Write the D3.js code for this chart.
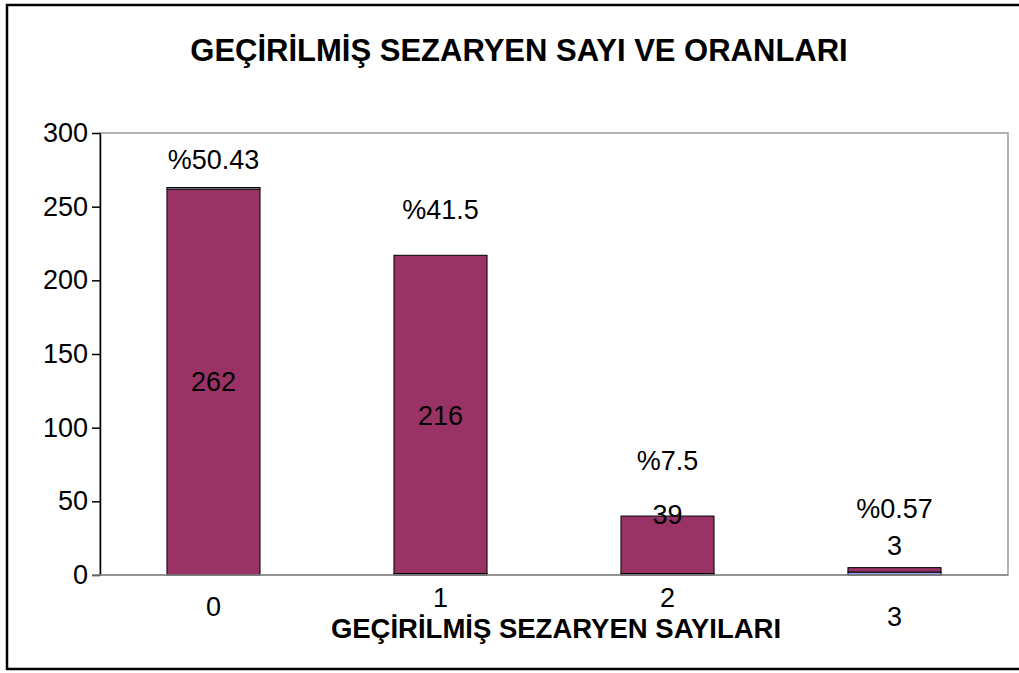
<!DOCTYPE html>
<html>
<head>
<meta charset="utf-8">
<script src="https://d3js.org/d3.v7.min.js"></script>
<style>
  body { margin: 0; background: #fff; }
  text { font-family: "Liberation Sans", Arial, sans-serif; fill: #000; }
</style>
</head>
<body>
<div id="chart"></div>
<script>
// data
const categories = ["0", "1", "2", "3"];
const blueValues = [0, 1, 1, 2];        // thin bottom series
const countValues = [262, 216, 39, 3];  // maroon series (sayı)
const topValues = [1, 0, 0, 0];         // thin top series
const countLabels = ["262", "216", "39", "3"];
const pctLabels = ["%50.43", "%41.5", "%7.5", "%0.57"];
const pctLabelAt = [282, 248, 78, 45];  // where the % labels sit, in axis units
const countLabelAt = [131, 108, 41, 20];
const yTicks = [0, 50, 100, 150, 200, 250, 300];

const W = 1019, H = 673;
const margin = {left: 100, right: 11, top: 133, bottom: 98};
const FS = "27px";

var svg = d3.select("#chart")
  .append("svg")
  .attr("width", W)
  .attr("height", H);

// outer frame
svg.append("rect")
  .attr("x", 7).attr("y", 5)
  .attr("width", 1030).attr("height", 664)
  .attr("fill", "#fff")
  .attr("stroke", "#000")
  .attr("stroke-width", 2.5);

var x = d3.scaleBand()
  .domain(categories)
  .range([margin.left, W - margin.right])
  .paddingInner(0.59)
  .paddingOuter(0.295);

var y = d3.scaleLinear()
  .domain([0, 300])
  .range([H - margin.bottom, margin.top]);

// plot area border
svg.append("rect")
  .attr("x", margin.left).attr("y", y(300))
  .attr("width", W - margin.right - margin.left)
  .attr("height", y(0) - y(300))
  .attr("fill", "none")
  .attr("stroke", "#999")
  .attr("stroke-width", 1.5);

// stacked bars
var rows = categories.map(function(c, i) {
  return {cat: c, blue: blueValues[i], count: countValues[i], top: topValues[i]};
});
var stack = d3.stack().keys(["blue", "count", "top"]);
var colors = {blue: "#9999ff", count: "#993366", top: "#ccffff"};

svg.selectAll("g.layer")
  .data(stack(rows))
  .enter().append("g")
  .attr("class", "layer")
  .attr("fill", function(d) { return colors[d.key]; })
  .selectAll("rect")
  .data(function(d) { return d.filter(function(p) { return p[1] > p[0]; }); })
  .enter().append("rect")
  .attr("x", function(d) { return x(d.data.cat); })
  .attr("width", x.bandwidth())
  .attr("y", function(d) { return y(d[1]); })
  .attr("height", function(d) { return y(d[0]) - y(d[1]); })
  .attr("stroke", "#000")
  .attr("stroke-width", 1);

// y axis
var yAxis = d3.axisLeft(y).tickValues(yTicks).tickSize(8).tickSizeOuter(0);
var ga = svg.append("g")
  .attr("transform", "translate(" + margin.left + ",0)")
  .call(yAxis);
ga.select(".domain").attr("stroke", "#000").attr("stroke-width", 1.5);
ga.selectAll(".tick line").attr("stroke", "#000").attr("stroke-width", 1.5);
ga.selectAll(".tick text")
  .attr("x", -12)
  .style("font-size", FS)
  .style("font-family", "Liberation Sans, Arial, sans-serif");

// x baseline
svg.append("line")
  .attr("x1", margin.left - 8).attr("x2", W - margin.right)
  .attr("y1", y(0)).attr("y2", y(0))
  .attr("stroke", "#888").attr("stroke-width", 1.5);

// category labels (staggered like the original)
var catDy = [32, 23, 23, 42];
svg.selectAll("text.cat")
  .data(categories)
  .enter().append("text")
  .attr("class", "cat")
  .attr("x", function(d) { return x(d) + x.bandwidth() / 2; })
  .attr("y", function(d, i) { return y(0) + catDy[i]; })
  .attr("dy", "0.35em")
  .attr("text-anchor", "middle")
  .style("font-size", FS)
  .text(function(d) { return d; });

// count labels
svg.selectAll("text.cnt")
  .data(countLabels)
  .enter().append("text")
  .attr("class", "cnt")
  .attr("x", function(d, i) { return x(categories[i]) + x.bandwidth() / 2; })
  .attr("y", function(d, i) { return y(countLabelAt[i]); })
  .attr("dy", "0.35em")
  .attr("text-anchor", "middle")
  .style("font-size", FS)
  .text(function(d) { return d; });

// percentage labels
svg.selectAll("text.pct")
  .data(pctLabels)
  .enter().append("text")
  .attr("class", "pct")
  .attr("x", function(d, i) { return x(categories[i]) + x.bandwidth() / 2; })
  .attr("y", function(d, i) { return y(pctLabelAt[i]); })
  .attr("dy", "0.35em")
  .attr("text-anchor", "middle")
  .style("font-size", FS)
  .text(function(d) { return d; });

// titles
svg.append("text")
  .attr("x", 519).attr("y", 50)
  .attr("dy", "0.35em")
  .attr("text-anchor", "middle")
  .style("font-size", "31px")
  .style("font-weight", "bold")
  .text("GEÇİRİLMİŞ SEZARYEN SAYI VE ORANLARI");

svg.append("text")
  .attr("x", 556).attr("y", 628)
  .attr("dy", "0.35em")
  .attr("text-anchor", "middle")
  .style("font-size", "27.5px")
  .style("font-weight", "bold")
  .text("GEÇİRİLMİŞ SEZARYEN SAYILARI");
</script>
</body>
</html>
